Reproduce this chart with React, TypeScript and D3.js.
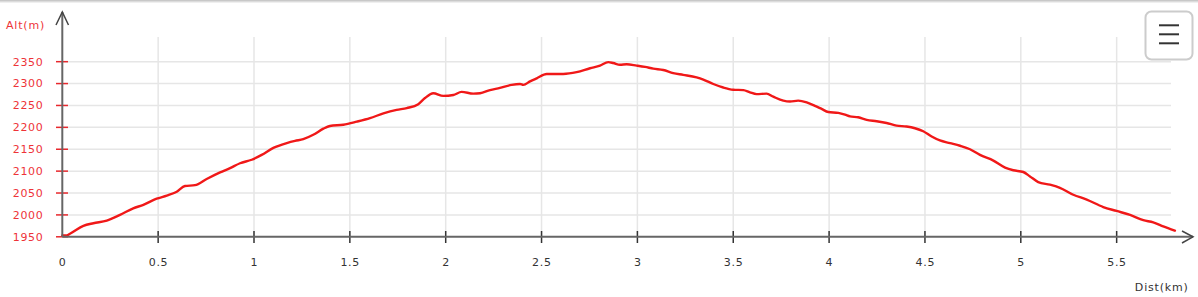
import React from "react";
import * as d3 from "d3";

const distKm = [0, 0.02, 0.04, 0.11, 0.162, 0.232, 0.301, 0.37, 0.423, 0.492, 0.545, 0.597, 0.64, 0.692, 0.753, 0.823, 0.875, 0.927, 0.988, 1.04, 1.101, 1.171, 1.214, 1.257, 1.309, 1.362, 1.396, 1.466, 1.536, 1.605, 1.675, 1.744, 1.797, 1.857, 1.892, 1.935, 1.987, 2.04, 2.083, 2.144, 2.179, 2.231, 2.283, 2.344, 2.388, 2.405, 2.44, 2.475, 2.527, 2.613, 2.683, 2.753, 2.805, 2.848, 2.874, 2.909, 2.944, 2.996, 3.04, 3.083, 3.135, 3.187, 3.239, 3.309, 3.344, 3.396, 3.448, 3.5, 3.553, 3.587, 3.622, 3.674, 3.709, 3.761, 3.796, 3.839, 3.883, 3.926, 3.961, 3.996, 4.048, 4.083, 4.109, 4.152, 4.196, 4.248, 4.3, 4.352, 4.404, 4.448, 4.491, 4.535, 4.578, 4.631, 4.683, 4.735, 4.787, 4.857, 4.918, 4.961, 5.013, 5.048, 5.091, 5.152, 5.204, 5.274, 5.344, 5.43, 5.5, 5.57, 5.639, 5.691, 5.743, 5.804];
const altM = [1953, 1953, 1957, 1975, 1981, 1987, 2000, 2015, 2023, 2037, 2044, 2053, 2066, 2068, 2082, 2097, 2107, 2118, 2126, 2137, 2153, 2164, 2169, 2173, 2183, 2197, 2203, 2206, 2213, 2221, 2232, 2240, 2244, 2253, 2267, 2278, 2272, 2274, 2281, 2277, 2278, 2285, 2290, 2297, 2299, 2297, 2305, 2312, 2322, 2322, 2326, 2335, 2341, 2349, 2347, 2343, 2344, 2341, 2338, 2334, 2331, 2324, 2320, 2314, 2309, 2299, 2291, 2286, 2285, 2280, 2276, 2277, 2270, 2261, 2259, 2261, 2257, 2249, 2242, 2235, 2233, 2229, 2225, 2223, 2217, 2214, 2210, 2204, 2202, 2198, 2191, 2179, 2170, 2164, 2158, 2150, 2137, 2124, 2108, 2102, 2098, 2088, 2075, 2069, 2062, 2046, 2035, 2018, 2009, 2000, 1988, 1983, 1974, 1964];
const xTicks = [0.5, 1, 1.5, 2, 2.5, 3, 3.5, 4, 4.5, 5, 5.5];
const xTickLabels = ["0", "0.5", "1", "1.5", "2", "2.5", "3", "3.5", "4", "4.5", "5", "5.5"];
const xLabelValues = [0, 0.5, 1, 1.5, 2, 2.5, 3, 3.5, 4, 4.5, 5, 5.5];
const yTicks = [1950, 2000, 2050, 2100, 2150, 2200, 2250, 2300, 2350];

const W = 1198;
const H = 297;
const X0 = 62.3;
const Y0 = 236.8;
const FONT = "'DejaVu Sans', Verdana, sans-serif";

export default function App() {
  const x = d3.scaleLinear().domain([0, 5.5]).range([X0, X0 + 191.7 * 5.5]);
  const y = d3.scaleLinear().domain([1950, 2350]).range([Y0, Y0 - 0.4378 * 400]);
  const data = distKm.map((d, i) => [d, altM[i]] as [number, number]);
  const line = d3
    .line<[number, number]>()
    .x((d) => x(d[0]))
    .y((d) => y(d[1]))
    .curve(d3.curveMonotoneX);
  const gridRight = 1171;
  const gridTop = 37;

  return (
    <svg
      width={W}
      height={H}
      style={{ position: "absolute", left: 0, top: 0, background: "#fff" }}
    >
      <rect x={0} y={0} width={W} height={H} fill="#fff" />
      {/* top shadow */}
      <line x1={0} x2={W} y1={0.5} y2={0.5} stroke="#c8c8c8" strokeWidth={1} />
      <line x1={0} x2={W} y1={1.5} y2={1.5} stroke="#dcdcdc" strokeWidth={1} />
      <line x1={0} x2={W} y1={2.5} y2={2.5} stroke="#efefef" strokeWidth={1} />

      {/* grid */}
      {yTicks.slice(1).map((t) => (
        <line key={"gy" + t} x1={X0} x2={gridRight} y1={y(t)} y2={y(t)} stroke="#e6e6e6" strokeWidth={1.5} />
      ))}
      {xTicks.map((t) => (
        <line key={"gx" + t} x1={x(t)} x2={x(t)} y1={gridTop} y2={Y0} stroke="#e6e6e6" strokeWidth={1.5} />
      ))}

      {/* y ticks and labels */}
      {yTicks.map((t) => (
        <g key={"yt" + t}>
          <line x1={56} x2={68} y1={y(t)} y2={y(t)} stroke="#e8282d" strokeWidth={1.5} />
          <text x={43.5} y={y(t)} dy="0.35em" textAnchor="end" fontSize={11} letterSpacing={0.7} fill="#ee3338" fontFamily={FONT}>
            {t}
          </text>
        </g>
      ))}
      <text x={6} y={25} dy="0.35em" fontSize={11} letterSpacing={0.8} fill="#ee3338" fontFamily={FONT}>
        Alt(m)
      </text>

      {/* x ticks and labels */}
      {xTicks.map((t) => (
        <line key={"xt" + t} x1={x(t)} x2={x(t)} y1={231} y2={243} stroke="#333" strokeWidth={1.5} />
      ))}
      {xLabelValues.map((t, i) => (
        <text key={"xl" + t} x={x(t) + 0.35} y={262} dy="0.35em" textAnchor="middle" fontSize={11} letterSpacing={0.7} fill="#333" fontFamily={FONT}>
          {xTickLabels[i]}
        </text>
      ))}
      <text x={1188.5} y={287} dy="0.35em" textAnchor="end" fontSize={11} letterSpacing={0.8} fill="#333" fontFamily={FONT}>
        Dist(km)
      </text>

      {/* profile line */}
      <path d={line(data) || ""} fill="none" stroke="#f01818" strokeWidth={2.4} strokeLinejoin="round" strokeLinecap="round" />

      {/* axes */}
      <line x1={X0} x2={X0} y1={12} y2={Y0} stroke="#666" strokeWidth={2} />
      <polyline points={`56,25 ${X0},12 68.5,25`} fill="none" stroke="#444" strokeWidth={1.5} />
      <line x1={X0} x2={1193} y1={Y0} y2={Y0} stroke="#666" strokeWidth={2} />
      <polyline points={`1182,231 1193,${Y0} 1182,243`} fill="none" stroke="#444" strokeWidth={1.5} />

      {/* menu button */}
      <rect x={1145.5} y={11.5} width={47} height={48} rx={6} fill="#fff" stroke="#cccccc" strokeWidth={2} />
      {[25.3, 34.3, 43.3].map((yy) => (
        <line key={"m" + yy} x1={1159} x2={1179} y1={yy} y2={yy} stroke="#333" strokeWidth={2} />
      ))}
    </svg>
  );
}
